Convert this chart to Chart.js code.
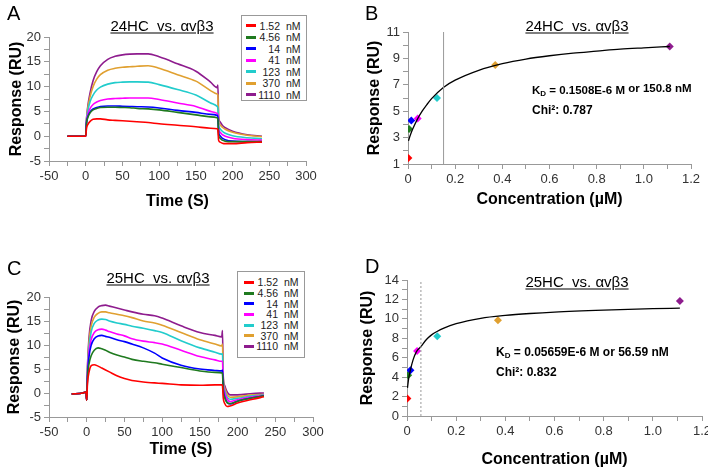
<!DOCTYPE html>
<html>
<head>
<meta charset="utf-8">
<script src="https://cdn.jsdelivr.net/npm/chart.js@4.4.1/dist/chart.umd.min.js"></script>
<style>
  body { margin: 0; background: #fff; font-family: "Liberation Sans", Arial, sans-serif; }
  #wrap { position: relative; width: 708px; height: 468px; overflow: hidden; }
  canvas { position: absolute; }
  .txt { position: absolute; white-space: nowrap; color: #000; line-height: 1; }
  .letter { font-size: 20px; }
  .ttl { font-size: 15px; text-decoration: underline; text-underline-offset: 2px; transform: translate(-50%, -50%); }
  .kd { font-size: 12px; font-weight: bold; transform: translateY(-50%); }
  .kd sub { font-size: 8px; vertical-align: -2px; }
  .legend { position: absolute; border: 1px solid #999; background: #fff; font-size: 10.5px; box-sizing: border-box; color: #222; }
  .legend .row { display: flex; align-items: center; }
  .legend .sw { display: inline-block; width: 10px; height: 3px; flex: none; }
  .legend .num { display: inline-block; width: 24px; text-align: right; flex: none; }
  .legend .unit { margin-left: 6px; }
</style>
</head>
<body>
<div id="wrap">
  <canvas id="cA" width="354" height="234" style="left:0;top:0"></canvas>
  <canvas id="cB" width="354" height="234" style="left:354px;top:0"></canvas>
  <canvas id="cC" width="354" height="234" style="left:0;top:234px"></canvas>
  <canvas id="cD" width="354" height="234" style="left:354px;top:234px"></canvas>

  <div class="txt letter" style="left:7px;top:3px">A</div>
  <div class="txt letter" style="left:365px;top:3px">B</div>
  <div class="txt letter" style="left:7px;top:258px">C</div>
  <div class="txt letter" style="left:365px;top:256px">D</div>

  <div class="txt ttl" style="left:162px;top:25px">24HC&nbsp; vs. αvβ3</div>
  <div class="txt ttl" style="left:577px;top:25px">24HC&nbsp; vs. αvβ3</div>
  <div class="txt ttl" style="left:158px;top:277px">25HC&nbsp; vs. αvβ3</div>
  <div class="txt ttl" style="left:577px;top:281px">25HC&nbsp; vs. αvβ3</div>

  <div class="txt kd" style="left:532px;top:91px;font-size:11.5px">K<sub>D</sub> = 0.1508E-6 M<span style="position:relative;top:-2px"> or 150.8 nM</span></div>
  <div class="txt kd" style="left:532px;top:110px">Chi²: 0.787</div>
  <div class="txt kd" style="left:496px;top:353px">K<sub>D</sub> = 0.05659E-6 M or 56.59 nM</div>
  <div class="txt kd" style="left:496px;top:372px">Chi²: 0.832</div>

  <div class="legend" id="legA" style="left:241px;top:15px;width:66px;height:86px;padding:4px 0 0 4px"></div>
  <div class="legend" id="legC" style="left:237px;top:271px;width:68px;height:87px;padding:5px 0 0 6px"></div>
</div>

<script>
const FONT = '"Liberation Sans", Arial, sans-serif';

// concentrations and colours shared by every panel
const concLabels = ['1.52', '4.56', '14', '41', '123', '370', '1110'];
const concUM = [0.00152, 0.00456, 0.014, 0.041, 0.123, 0.37, 1.11];
const colors = ['#ff0000', '#1f7a1f', '#0000ff', '#ff00ff', '#22cccc', '#e0a030', '#8e1c8e'];

// --- panel A: 24HC sensorgrams ---
const tA = [-25, -1, 0, 1, 3, 6, 10, 15, 20, 30, 40, 50, 60, 70, 85, 100, 125, 150, 170, 179, 180, 181, 183, 186, 190, 200, 220, 240];
const a152 = [0, 0, 0, 1.5, 2.4, 3.0, 3.4, 3.5, 3.5, 3.3, 3.2, 3.1, 3.0, 2.9, 2.75, 2.5, 2.2, 1.9, 1.6, 1.5, 1.2, -0.8, -1.2, -1.4, -1.5, -1.5, -1.3, -1.2];
const a456 = [0, 0, 0, 2.5, 3.8, 4.7, 5.3, 5.6, 5.8, 5.85, 5.85, 5.8, 5.75, 5.6, 5.5, 5.3, 4.8, 4.3, 3.9, 3.7, 3.3, 0.2, -0.4, -0.8, -1.0, -1.1, -1.1, -1.1];
const a14 = [0, 0, 0, 2.6, 4.0, 4.9, 5.5, 5.8, 6.0, 6.1, 6.1, 6.05, 6.0, 5.95, 5.9, 5.7, 5.2, 4.8, 4.4, 4.2, 3.8, 0.8, 0.1, -0.4, -0.7, -1.0, -1.1, -1.2];
const a41 = [0, 0, 0, 2.8, 4.5, 5.6, 6.4, 6.9, 7.2, 7.5, 7.6, 7.65, 7.7, 7.7, 7.7, 7.4, 6.7, 6.0, 5.0, 4.6, 4.3, 1.5, 0.8, 0.3, 0, -0.4, -0.7, -0.8];
const a123 = [0, 0, 0, 3.0, 5.2, 7.0, 8.3, 9.3, 9.9, 10.5, 10.8, 10.9, 10.95, 10.95, 10.9, 10.4, 9.4, 8.3, 6.7, 6.0, 5.6, 2.4, 1.5, 1.0, 0.6, 0.1, -0.3, -0.5];
const a370 = [0, 0, 0, 3.2, 5.8, 8.0, 10.0, 11.5, 12.4, 13.3, 13.7, 13.9, 14.0, 14.1, 14.2, 13.7, 12.4, 11.1, 9.2, 8.5, 8.3, 3.3, 2.3, 1.8, 1.4, 0.8, 0.2, -0.1];
const a1110 = [0, 0, 0, 3.3, 6.2, 8.8, 11.2, 13.0, 14.2, 15.5, 16.1, 16.4, 16.55, 16.6, 16.6, 16.0, 14.6, 13.1, 10.9, 9.8, 10.3, 4.0, 2.9, 2.2, 1.7, 1.0, 0.3, 0];

// --- panel C: 25HC sensorgrams ---
const tC = [-20, -5, -1, 0, 1, 3, 6, 10, 15, 20, 25, 30, 40, 50, 60, 75, 90, 100, 125, 150, 170, 179, 180, 181, 183, 186, 190, 200, 220, 235];
const c152 = [-0.2, 0, 0.2, -1.5, 2.0, 4.3, 5.7, 5.9, 5.6, 5.2, 4.8, 4.4, 3.6, 3.0, 2.6, 2.3, 2.1, 2.0, 1.7, 1.6, 1.7, 1.7, 1.5, -1.0, -2.2, -2.8, -2.7, -2.1, -1.3, -0.8];
const c456 = [-0.2, 0, 0.2, -1.5, 3.0, 6.0, 7.8, 8.9, 9.4, 9.2, 8.9, 8.5, 7.9, 7.5, 7.0, 6.6, 6.3, 6.0, 5.3, 4.6, 4.3, 4.2, 4.0, 0.5, -1.0, -2.0, -2.2, -1.7, -1.0, -0.6];
const c14 = [-0.2, 0, 0.2, -1.5, 3.5, 7.5, 10.0, 11.3, 11.9, 12.0, 11.8, 11.6, 11.1, 10.7, 10.2, 9.4, 8.3, 7.3, 5.8, 5.0, 4.7, 4.6, 4.8, 1.0, -0.8, -1.9, -2.3, -1.7, -1.0, -0.6];
const c41 = [-0.2, 0, 0.2, -1.5, 4.0, 8.5, 11.2, 12.6, 13.2, 13.3, 13.1, 12.8, 12.3, 11.9, 11.3, 10.8, 10.5, 10.2, 8.9, 7.6, 6.9, 6.6, 6.6, 2.0, 0, -1.2, -1.8, -1.4, -0.8, -0.5];
const c123 = [-0.2, 0, 0.2, -1.5, 4.5, 9.5, 12.8, 14.5, 15.2, 15.4, 15.3, 15.0, 14.6, 14.3, 13.9, 13.5, 13.0, 12.6, 10.9, 9.4, 8.5, 8.1, 8.2, 2.5, 0.5, -0.8, -1.3, -1.1, -0.6, -0.4];
const c370 = [-0.2, 0, 0.2, -1.5, 5.0, 10.5, 14.0, 15.8, 16.6, 16.9, 16.9, 16.7, 16.4, 16.1, 15.7, 15.0, 14.6, 14.1, 12.6, 11.1, 10.2, 9.8, 10.2, 3.0, 1.0, -0.3, -0.9, -0.8, -0.4, -0.3];
const c1110 = [-0.2, 0, 0.2, -1.5, 5.5, 11.5, 15.2, 17.0, 17.9, 18.2, 18.3, 18.1, 17.7, 17.3, 16.9, 16.4, 16.1, 15.6, 14.0, 12.6, 12.0, 11.7, 13.0, 3.5, 1.5, 0.3, -0.4, -0.4, -0.1, 0];

// --- panel B: 24HC steady-state affinity ---
const respB = [1.45, 3.65, 4.3, 4.45, 6.0, 8.5, 9.9];
const fitBx = [0.002, 0.01, 0.02, 0.04, 0.06, 0.08, 0.1, 0.15, 0.2, 0.3, 0.4, 0.5, 0.6, 0.7, 0.8, 0.9, 1.0, 1.11];
const fitBy = [2.75, 3.2, 3.65, 4.4, 5.0, 5.5, 5.95, 6.8, 7.35, 8.1, 8.6, 8.95, 9.2, 9.4, 9.55, 9.7, 9.8, 9.9];
const kdB = 0.1508;

// --- panel D: 25HC steady-state affinity ---
const respD = [1.8, 4.2, 4.7, 6.7, 8.2, 9.85, 11.85];
const fitDx = [0.002, 0.007, 0.014, 0.025, 0.038, 0.055, 0.08, 0.1, 0.122, 0.15, 0.2, 0.3, 0.4, 0.5, 0.6, 0.8, 1.0, 1.11];
const fitDy = [2.9, 3.9, 4.75, 5.8, 6.6, 7.1, 7.9, 8.35, 8.7, 9.05, 9.5, 10.05, 10.35, 10.55, 10.7, 10.9, 11.05, 11.1];
const kdD = 0.05659;

const pts = (xs, ys) => xs.map((x, i) => ({ x: x, y: ys[i] }));

function axis(min, max, step, label, title, size, isX) {
  return {
    type: 'linear', min: min, max: max,
    ticks: { stepSize: step, autoSkip: false, maxRotation: 0, color: '#333', padding: 3,
             font: { family: FONT, size: 13 }, callback: label },
    grid: { display: true, drawOnChartArea: false, drawTicks: true, tickLength: 5, color: '#999' },
    border: { display: true, color: '#999' },
    title: { display: true, text: title, color: '#000', padding: 0,
             font: { family: FONT, size: 16, weight: 'bold', lineHeight: 1 } },
    afterFit(s) {
      if (isX) s.height = size; else s.width = size;
      s.paddingLeft = s.paddingRight = s.paddingTop = s.paddingBottom = 0;
    }
  };
}

const every = n => v => (Math.abs(Math.round(v / n) * n - v) < 1e-6 ? String(Math.round(v)) : '');
const conc = v => {
  const k = Math.round(v * 10);
  if (k % 2 !== 0) return '';
  return k === 0 ? '0' : (k / 10).toFixed(1);
};

function makeChart(id, datasets, x, y, padding) {
  return new Chart(document.getElementById(id), {
    type: 'line',
    data: { datasets: datasets },
    options: {
      responsive: false, animation: false,
      layout: { padding: padding },
      plugins: { legend: { display: false }, tooltip: { enabled: false } },
      scales: { x: x, y: y }
    }
  });
}

function sensorgram(t, series) {
  return series.map((s, i) => ({
    data: pts(t, s), borderColor: colors[i], borderWidth: 1.6,
    pointRadius: 0, cubicInterpolationMode: 'monotone'
  }));
}

function affinity(resp, fx, fy, kd, ymin, ymax, dash) {
  return [
    { data: [{ x: kd, y: ymin }, { x: kd, y: ymax }], borderColor: '#999', borderWidth: 1,
      borderDash: dash, pointRadius: 0, tension: 0 },
    { data: pts(fx, fy), borderColor: '#000', borderWidth: 1.3, pointRadius: 0,
      cubicInterpolationMode: 'monotone' },
    { data: pts(concUM, resp), showLine: false, pointStyle: 'rectRot', pointRadius: 4,
      pointBackgroundColor: colors, pointBorderColor: colors, pointBorderWidth: 0 }
  ];
}

makeChart('cA', sensorgram(tA, [a152, a456, a14, a41, a123, a370, a1110]),
  axis(-50, 300, 25, every(50), 'Time (S)', 49, true),
  axis(-5, 20, 2.5, every(5), 'Response (RU)', 40, false),
  { left: 9, top: 37, right: 48, bottom: 24 });

makeChart('cB', affinity(respB, fitBx, fitBy, kdB, 1, 11, []),
  axis(0, 1.2, 0.1, conc, 'Concentration (µM)', 44, true),
  axis(1, 11, 1, v => ((Math.round(v) - 1) % 2 === 0 ? String(Math.round(v)) : ''), 'Response (RU)', 41, false),
  { left: 13, top: 32, right: 17, bottom: 26 });

makeChart('cC', sensorgram(tC, [c152, c456, c14, c41, c123, c370, c1110]),
  axis(-50, 300, 25, every(50), 'Time (S)', 41, true),
  axis(-5, 20, 2.5, every(5), 'Response (RU)', 42, false),
  { left: 7, top: 63, right: 41, bottom: 10 });

makeChart('cD', affinity(respD, fitDx, fitDy, kdD, 0, 14, [2, 2]),
  axis(0, 1.2, 0.1, conc, 'Concentration (µM)', 52, true),
  axis(0, 14, 1, every(2), 'Response (RU)', 47, false),
  { left: 6, top: 46, right: 6, bottom: 0 });

// HTML legends built from the same series labels and colours
function legend(id, rowH) {
  const box = document.getElementById(id);
  concLabels.forEach((lab, i) => {
    const row = document.createElement('div');
    row.className = 'row';
    row.style.height = rowH + 'px';
    row.innerHTML = '<span class="sw" style="background:' + colors[i] + '"></span>' +
      '<span class="num">' + lab + '</span><span class="unit">nM</span>';
    box.appendChild(row);
  });
}
legend('legA', 11.5);
legend('legC', 10.7);
</script>
</body>
</html>
